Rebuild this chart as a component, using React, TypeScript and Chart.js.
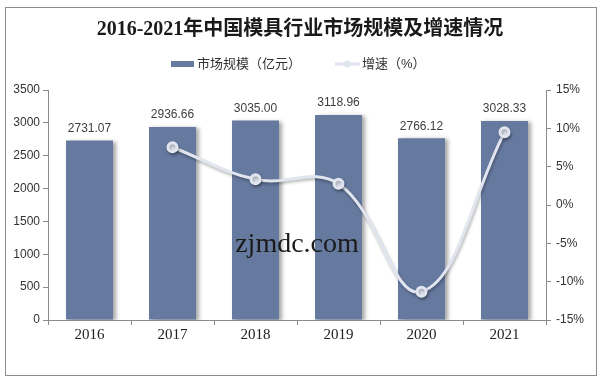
import React, { useEffect, useRef } from "react";
import { Chart, registerables } from "chart.js";

Chart.register(...registerables);

const years = ["2016", "2017", "2018", "2019", "2020", "2021"];
const marketSize = [2731.07, 2936.66, 3035.0, 3118.96, 2766.12, 3028.33];
const growth = [null, 7.53, 3.35, 2.77, -11.31, 9.48];
const leftTicks = [0, 500, 1000, 1500, 2000, 2500, 3000, 3500];
const titleText = "2016-2021年中国模具行业市场规模及增速情况";
const legendBar = "市场规模（亿元）";
const legendLine = "增速（%）";
const watermark = "zjmdc.com";

const BAR_COLOR = "#66799F";
const LINE_COLOR = "#E1E5EF";
const AXIS_COLOR = "#8a8a8a";
const SANS = '"Liberation Sans", Arial, "Noto Sans CJK SC", sans-serif';
const SERIF = '"Liberation Serif", "Times New Roman", "Noto Sans CJK SC", serif';

export default function App() {
  const ref = useRef<HTMLCanvasElement | null>(null);

  useEffect(() => {
    if (!ref.current) return;

    const shadowPlugin = {
      id: "shadowPlugin",
      beforeDatasetDraw(chart: any, args: any) {
        const ctx = chart.ctx;
        ctx.save();
        if (args.index === 0) {
          ctx.shadowColor = "rgba(0,0,0,0.35)";
          ctx.shadowBlur = 4;
          ctx.shadowOffsetX = 3;
          ctx.shadowOffsetY = 1;
        } else {
          ctx.shadowColor = "rgba(0,0,0,0.3)";
          ctx.shadowBlur = 3;
          ctx.shadowOffsetX = 1;
          ctx.shadowOffsetY = 2;
        }
      },
      afterDatasetDraw(chart: any) {
        chart.ctx.restore();
      },
    };

    const decorPlugin = {
      id: "decorPlugin",
      afterDatasetsDraw(chart: any) {
        const ctx = chart.ctx;
        const meta = chart.getDatasetMeta(0);
        ctx.save();
        ctx.font = "12px " + SANS;
        ctx.fillStyle = "#404040";
        ctx.textAlign = "center";
        ctx.textBaseline = "bottom";
        meta.data.forEach((el: any, i: number) => {
          ctx.fillText(marketSize[i].toFixed(2), el.x, el.y - 6);
        });
        ctx.restore();
      },
      afterDraw(chart: any) {
        const ctx = chart.ctx;
        ctx.save();
        ctx.font = "bold 20px " + SERIF;
        ctx.fillStyle = "#1a1a1a";
        ctx.textAlign = "center";
        ctx.textBaseline = "middle";
        ctx.fillText(titleText, 300, 30);

        ctx.font = "13px " + SANS;
        ctx.textAlign = "left";
        ctx.fillStyle = BAR_COLOR;
        ctx.fillRect(171, 61, 23, 6);
        ctx.fillStyle = "#333";
        ctx.fillText(legendBar, 197, 64);
        ctx.strokeStyle = LINE_COLOR;
        ctx.lineWidth = 3;
        ctx.beginPath();
        ctx.moveTo(335, 64);
        ctx.lineTo(360, 64);
        ctx.stroke();
        ctx.fillStyle = LINE_COLOR;
        ctx.beginPath();
        ctx.arc(347.5, 64, 3.5, 0, Math.PI * 2);
        ctx.fill();
        ctx.fillStyle = "#333";
        ctx.fillText(legendLine, 362, 64);

        ctx.font = "28px " + SERIF;
        ctx.fillStyle = "#1a1a1a";
        ctx.textAlign = "center";
        ctx.textBaseline = "alphabetic";
        ctx.fillText(watermark, 297, 252);
        ctx.restore();
      },
    };

    const chart = new Chart(ref.current, {
      type: "bar",
      data: {
        labels: years,
        datasets: [
          {
            type: "bar",
            label: legendBar,
            data: marketSize,
            backgroundColor: BAR_COLOR,
            yAxisID: "y",
            categoryPercentage: 1,
            barPercentage: 0.566,
            order: 2,
          },
          {
            type: "line",
            label: legendLine,
            data: growth as any,
            borderColor: LINE_COLOR,
            backgroundColor: LINE_COLOR,
            borderWidth: 3,
            pointRadius: 4.5,
            pointBackgroundColor: LINE_COLOR,
            pointBorderColor: LINE_COLOR,
            tension: 0.4,
            yAxisID: "y1",
            order: 1,
          },
        ],
      },
      options: {
        responsive: false,
        animation: false,
        events: [],
        layout: { padding: { top: 90, left: 0, right: 0, bottom: 31 } },
        plugins: {
          legend: { display: false },
          title: { display: false },
          tooltip: { enabled: false },
        },
        scales: {
          x: {
            grid: {
              display: true,
              drawOnChartArea: false,
              drawTicks: true,
              tickLength: 5,
              color: AXIS_COLOR,
              offset: true,
            },
            border: { display: true, color: AXIS_COLOR },
            ticks: {
              font: { family: SERIF, size: 15 },
              color: "#222",
              padding: 1,
            },
            afterFit(scale: any) {
              scale.height = 30;
            },
          },
          y: {
            position: "left",
            min: 0,
            max: 3500,
            afterBuildTicks(scale: any) {
              scale.ticks = leftTicks.map((v) => ({ value: v }));
            },
            grid: {
              display: true,
              drawOnChartArea: false,
              drawTicks: true,
              tickLength: 5,
              color: AXIS_COLOR,
            },
            border: { display: true, color: AXIS_COLOR },
            ticks: {
              font: { family: SANS, size: 12 },
              color: "#333",
              padding: 3,
              callback: (v: any) => String(v),
            },
            afterFit(scale: any) {
              scale.width = 48;
            },
          },
          y1: {
            position: "right",
            min: -15,
            max: 15,
            grid: {
              display: true,
              drawOnChartArea: false,
              drawTicks: true,
              tickLength: 5,
              color: AXIS_COLOR,
            },
            border: { display: true, color: AXIS_COLOR },
            ticks: {
              stepSize: 5,
              font: { family: SANS, size: 12 },
              color: "#333",
              padding: 5,
              callback: (v: any) => v + "%",
            },
            afterFit(scale: any) {
              scale.width = 54;
            },
          },
        },
      },
      plugins: [shadowPlugin, decorPlugin],
    } as any);

    return () => chart.destroy();
  }, []);

  return (
    <div style={{ position: "absolute", left: 0, top: 0, width: 600, height: 381, background: "#fff" }}>
      <canvas ref={ref} width={600} height={381} style={{ display: "block", width: 600, height: 381 }} />
      <div
        style={{
          position: "absolute",
          left: 5,
          top: 7,
          width: 592,
          height: 369,
          boxSizing: "border-box",
          border: "1px solid #8c8c8c",
          pointerEvents: "none",
        }}
      />
    </div>
  );
}
